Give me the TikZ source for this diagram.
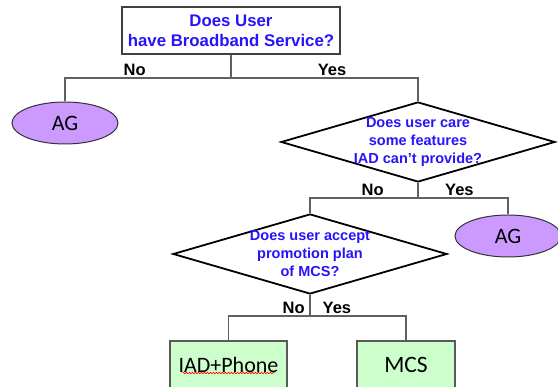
\documentclass[tikz,border=0pt]{standalone}
\usepackage{fontspec}
\setmainfont{Liberation Sans}
\newfontfamily\calibri{Carlito}
\usetikzlibrary{shapes.geometric,decorations.pathmorphing}

\definecolor{askblue}{RGB}{40,20,250}
\definecolor{aglilac}{RGB}{204,153,255}
\definecolor{boxgreen}{RGB}{204,255,204}
\definecolor{wiregray}{RGB}{96,96,96}

\begin{document}
\begin{tikzpicture}[x=1pt,y=1pt,
    wire/.style={draw=wiregray,line width=1.2pt},
    lbl/.style={above,inner sep=1.5pt,font=\fontsize{16.5}{18}\selectfont\bfseries},
    ask/.style={align=center,text=askblue,font=\fontsize{14.5}{18}\selectfont\bfseries},
    askbox/.style={ask,rectangle,draw=black!75,line width=1.2pt,fill=white,
                   minimum width=218pt,minimum height=47pt,
                   font=\fontsize{16.8}{20}\selectfont\bfseries},
    askdiam/.style={ask,diamond,draw=black,line width=1.8pt,fill=white,aspect=3.4,
                    inner xsep=0pt,inner ysep=-6pt,minimum width=274pt,minimum height=80pt},
    ag/.style={ellipse,draw=black!80,line width=1pt,fill=aglilac,inner sep=0pt,
               minimum width=106pt,minimum height=42pt,font=\calibri\fontsize{22}{24}\selectfont},
    result/.style={rectangle,draw=black!65,line width=1.2pt,fill=boxgreen,
                   minimum height=48pt,font=\calibri\fontsize{22}{24}\selectfont},
    spell/.style={draw=red,line width=.6pt,decorate,
                  decoration={snake,amplitude=.8pt,segment length=3pt}}]

  \useasboundingbox (0,0) rectangle (558,-387);

  \node[askbox]  (q1) at (231,-30.5) {Does User\\have Broadband Service?};
  \node[ag]      (ag1) [node distance=92.5pt,below of=q1,xshift=-166pt] {AG};
  \node[askdiam] (q2)  [node distance=111.5pt,below of=q1,xshift=187pt]
                       {Does user care\\some features\\IAD can’t provide?};
  \node[ag]      (ag2) [node distance=94pt,below of=q2,xshift=90pt] {AG};
  \node[askdiam] (q3)  [node distance=112pt,below of=q2,xshift=-108pt]
                       {Does user accept\\promotion plan\\of MCS?};
  \node[result,minimum width=117pt] (iad) [node distance=111pt,below of=q3,xshift=-81.5pt] {IAD+Phone};
  \node[result,minimum width=98pt,font=\calibri\fontsize{23.5}{24}\selectfont]
                                    (mcs) [node distance=111pt,below of=q3,xshift=96pt] {MCS};

  % branch points under each question
  \coordinate[node distance=47.5pt,below of=q1] (j1);
  \coordinate[node distance=56pt,below of=q2] (j2);
  \coordinate[node distance=62pt,below of=q3] (j3);

  \path[wire] (q1.south) -- (j1);
  \path[wire] (j1) -| (ag1.north) node[lbl,pos=.29] {No};
  \path[wire] (j1) -| (q2.north) node[lbl,pos=.27] {Yes};

  \path[wire] (q2.south) -- (j2);
  \path[wire] (j2) -| (q3.north) node[lbl,pos=.21] {No};
  \path[wire] (j2) -| (ag2.north) node[lbl,pos=.23] {Yes};

  \path[wire] (q3.south) -- (j3);
  \path[wire] (j3) -| (iad.north) node[lbl,pos=.1] {No};
  \path[wire] (j3) -| (mcs.north) node[lbl,pos=.14] {Yes};

  \path[spell] ([xshift=-46pt,yshift=-8pt]iad.center) -- ([xshift=46pt,yshift=-8pt]iad.center);

\end{tikzpicture}
\end{document}
